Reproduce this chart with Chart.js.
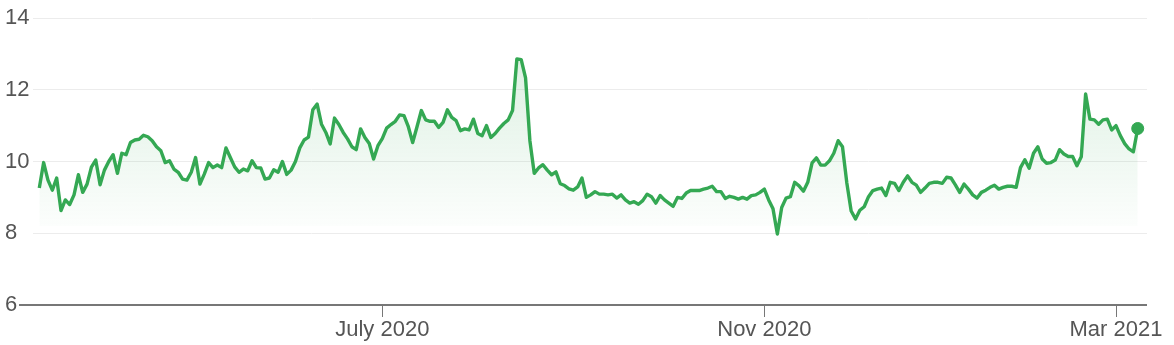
<!DOCTYPE html>
<html>
<head>
<meta charset="utf-8">
<script src="https://cdn.jsdelivr.net/npm/chart.js@4"></script>
<style>
  html, body { margin: 0; padding: 0; background: #fff; }
  #wrap { width: 1174px; height: 345px; position: relative; }
</style>
</head>
<body>
<div id="wrap"><canvas id="c"></canvas></div>
<script>
// Trading-day index of each x tick and its label
const tickIndex = [79, 167, 248];
const tickLabels = ['July 2020', 'Nov 2020', 'Mar 2021'];
// Y axis ticks
const yTicks = [6, 8, 10, 12, 14];
// Daily closing values, one per trading day
const values = [
  9.26, 9.97, 9.48, 9.20, 9.54, 8.63, 8.93, 8.80, 9.07, 9.63,
  9.14, 9.37, 9.84, 10.04, 9.35, 9.76, 10.00, 10.19, 9.67, 10.23,
  10.19, 10.53, 10.60, 10.62, 10.73, 10.69, 10.58, 10.41, 10.30, 9.97,
  10.02, 9.79, 9.70, 9.51, 9.48, 9.70, 10.11, 9.37, 9.65, 9.97,
  9.83, 9.90, 9.83, 10.38, 10.11, 9.85, 9.70, 9.79, 9.74, 10.02,
  9.83, 9.82, 9.51, 9.54, 9.77, 9.70, 10.00, 9.64, 9.76, 10.00,
  10.38, 10.60, 10.68, 11.44, 11.60, 11.04, 10.81, 10.49, 11.21, 11.03,
  10.81, 10.63, 10.41, 10.33, 10.91, 10.67, 10.50, 10.07, 10.44, 10.64,
  10.93, 11.03, 11.12, 11.30, 11.28, 10.97, 10.53, 10.97, 11.42, 11.16,
  11.12, 11.12, 10.95, 11.09, 11.44, 11.23, 11.14, 10.86, 10.91, 10.88,
  11.18, 10.78, 10.72, 11.00, 10.67, 10.78, 10.93, 11.06, 11.16, 11.42,
  12.86, 12.84, 12.33, 10.58, 9.67, 9.82, 9.91, 9.76, 9.63, 9.71,
  9.38, 9.33, 9.24, 9.20, 9.29, 9.54, 9.00, 9.07, 9.16, 9.09,
  9.09, 9.07, 9.09, 8.98, 9.07, 8.93, 8.84, 8.88, 8.81, 8.91,
  9.09, 9.02, 8.84, 9.05, 8.93, 8.84, 8.75, 9.00, 8.97, 9.12,
  9.19, 9.19, 9.19, 9.23, 9.26, 9.31, 9.16, 9.16, 8.97, 9.03,
  9.00, 8.95, 9.00, 8.95, 9.05, 9.07, 9.14, 9.23, 8.93, 8.68,
  7.98, 8.72, 8.98, 9.02, 9.42, 9.32, 9.17, 9.42, 9.96, 10.10,
  9.90, 9.90, 10.02, 10.23, 10.58, 10.41, 9.40, 8.62, 8.40, 8.64,
  8.74, 9.02, 9.19, 9.23, 9.26, 9.05, 9.42, 9.39, 9.19, 9.42,
  9.60, 9.42, 9.34, 9.14, 9.26, 9.39, 9.42, 9.42, 9.39, 9.56,
  9.54, 9.35, 9.14, 9.37, 9.23, 9.07, 8.98, 9.14, 9.20, 9.28,
  9.34, 9.23, 9.28, 9.31, 9.31, 9.28, 9.83, 10.05, 9.81, 10.23,
  10.41, 10.07, 9.95, 9.97, 10.04, 10.33, 10.21, 10.14, 10.14, 9.88,
  10.13, 11.88, 11.18, 11.16, 11.04, 11.16, 11.18, 10.88, 11.00, 10.72,
  10.50, 10.35, 10.27, 10.92
];

const GREEN = '#34a853';
const lastIdx = values.length - 1;

const chart = new Chart(document.getElementById('c'), {
  type: 'line',
  data: {
    datasets: [{
      data: values.map((v, i) => ({ x: i, y: v })),
      borderColor: GREEN,
      borderWidth: 3.4,
      tension: 0,
      borderJoinStyle: 'round',
      pointRadius: ctx => ctx.dataIndex === lastIdx ? 6 : 0,
      pointHoverRadius: 0,
      pointBackgroundColor: GREEN,
      pointBorderColor: GREEN,
      pointBorderWidth: 1,
      fill: { value: 8.2 },
      backgroundColor: ctx => {
        const ch = ctx.chart;
        if (!ch.chartArea || !ch.scales.y) return 'rgba(52,168,83,0.1)';
        const y0 = ch.scales.y.getPixelForValue(14);
        const y1 = ch.scales.y.getPixelForValue(8.2);
        const g = ch.ctx.createLinearGradient(0, y0, 0, y1);
        g.addColorStop(0, 'rgba(52,168,83,0.20)');
        g.addColorStop(1, 'rgba(52,168,83,0.015)');
        return g;
      }
    }]
  },
  options: {
    responsive: true,
    maintainAspectRatio: false,
    animation: false,
    layout: { padding: { left: 5, right: 27, top: 18, bottom: 0 } },
    plugins: { legend: { display: false }, tooltip: { enabled: false } },
    scales: {
      x: {
        type: 'linear',
        min: -1.45,
        max: 255.14,
        afterBuildTicks: s => { s.ticks = tickIndex.map(v => ({ value: v })); },
        afterFit: s => { s.height = 40; },
        ticks: {
          autoSkip: false,
          maxRotation: 0,
          padding: 0,
          color: '#555',
          font: { family: '"Liberation Sans", Arial, sans-serif', size: 22 },
          callback: v => tickLabels[tickIndex.indexOf(v)]
        },
        grid: {
          drawOnChartArea: false,
          drawTicks: true,
          tickLength: 12,
          tickColor: '#777',
          tickWidth: 1
        },
        border: { display: false }
      },
      y: {
        min: 6,
        max: 14,
        afterBuildTicks: s => { s.ticks = yTicks.map(v => ({ value: v })); },
        afterFit: s => { s.width = 28; },
        ticks: {
          crossAlign: 'far',
          padding: 0,
          color: '#555',
          font: { family: '"Liberation Sans", Arial, sans-serif', size: 22 }
        },
        grid: {
          color: ctx => ctx.tick && ctx.tick.value === 6 ? '#777' : '#ececec',
          lineWidth: ctx => ctx.tick && ctx.tick.value === 6 ? 2 : 1,
          tickLength: 14,
          tickColor: ctx => ctx.tick && ctx.tick.value === 6 ? '#777' : 'rgba(0,0,0,0)',
          tickWidth: 2
        },
        border: { display: false }
      }
    }
  }
});
</script>
</body>
</html>
